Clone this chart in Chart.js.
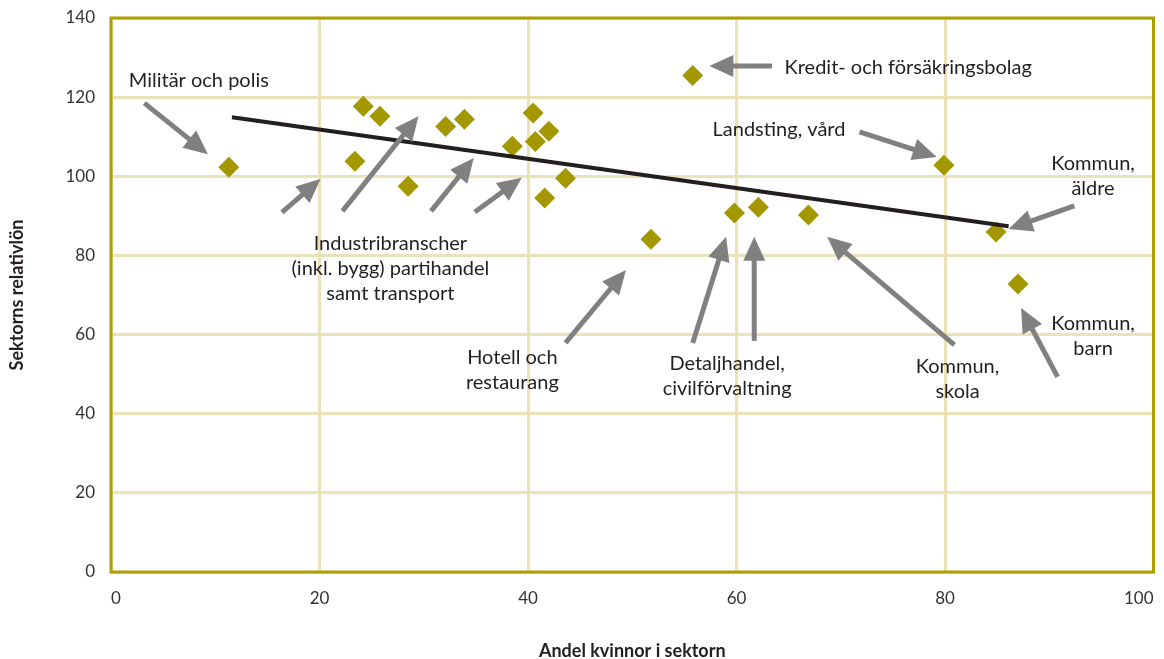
<!DOCTYPE html>
<html>
<head>
<meta charset="utf-8">
<script src="https://cdn.jsdelivr.net/npm/chart.js@4/dist/chart.umd.min.js"></script>
<style>
  html, body { margin: 0; padding: 0; background: #fff; }
  #wrap { width: 1164px; height: 659px; }
</style>
</head>
<body>
<div id="wrap"><canvas id="c"></canvas></div>
<script>
// andel kvinnor i sektorn (%) och sektorns relativlön
const andelKvinnor = [11.3, 24.2, 25.8, 23.4, 28.5, 32.1, 33.9, 38.5, 40.5, 40.7, 42.0, 43.6, 41.6, 51.8, 55.8, 59.8, 62.1, 66.9, 79.9, 84.9, 87.0];
const relativlon   = [102.3, 117.7, 115.2, 103.8, 97.5, 112.6, 114.4, 107.6, 116.0, 108.8, 111.4, 99.5, 94.5, 84.1, 125.5, 90.7, 92.2, 90.2, 102.8, 85.9, 72.8];

// trendlinje
const trendX = [11.6, 86.1];
const trendY = [114.9, 87.4];

const xTicks = [0, 20, 40, 60, 80, 100];
const yTicks = [0, 20, 40, 60, 80, 100, 120, 140];

// etiketter: text, x, y (datavärden), justering
const labelTexts = [
  ['Militär och polis'],
  ['Industribranscher', '(inkl. bygg) partihandel', 'samt transport'],
  ['Hotell och', 'restaurang'],
  ['Kredit- och försäkringsbolag'],
  ['Landsting, vård'],
  ['Detaljhandel,', 'civilförvaltning'],
  ['Kommun,', 'skola'],
  ['Kommun,', 'äldre'],
  ['Kommun,', 'barn']
];
const labelX = [1.7, 26.8, 38.5, 64.6, 57.7, 59.1, 81.2, 94.2, 94.2];
const labelY = [124.3, 83.0, 54.1, 127.6, 111.7, 52.6, 51.8, 103.3, 62.7];
const labelAlign = ['left', 'center', 'center', 'left', 'left', 'center', 'center', 'center', 'center'];

// pilar: start -> spets (datavärden)
const arrowFromX = [3.2, 16.4, 22.2, 30.7, 34.9, 43.6, 63.4, 55.8, 61.7, 80.9, 71.8, 92.4, 90.8];
const arrowFromY = [118.5, 90.9, 91.2, 91.2, 91.0, 57.9, 127.9, 57.9, 58.4, 57.4, 111.2, 92.5, 49.3];
const arrowToX   = [9.3, 20.1, 29.5, 34.8, 39.4, 49.4, 57.4, 59.0, 61.7, 68.7, 79.2, 86.1, 87.3];
const arrowToY   = [105.6, 99.3, 115.2, 104.6, 99.6, 76.3, 127.9, 84.7, 84.7, 84.7, 104.9, 86.7, 66.7];

const olive = '#a39800';
const gridCol = '#ebe3b8';
const textCol = '#231f20';

const points = andelKvinnor.map((x, i) => ({x: x, y: relativlon[i]}));
const trend = trendX.map((x, i) => ({x: x, y: trendY[i]}));

const frame = {
  id: 'frame',
  beforeDatasetsDraw(chart) {
    const {ctx, chartArea: a} = chart;
    ctx.save();
    ctx.strokeStyle = '#aba000';
    ctx.lineWidth = 3;
    ctx.strokeRect(a.left, a.top, a.right - a.left, a.bottom - a.top);
    ctx.restore();
  }
};

const notes = {
  id: 'notes',
  afterDatasetsDraw(chart) {
    const ctx = chart.ctx;
    const xs = chart.scales.x, ys = chart.scales.y;
    ctx.save();
    // pilar
    ctx.strokeStyle = '#808080';
    ctx.fillStyle = '#808080';
    ctx.lineWidth = 5;
    for (let i = 0; i < arrowFromX.length; i++) {
      const x0 = xs.getPixelForValue(arrowFromX[i]), y0 = ys.getPixelForValue(arrowFromY[i]);
      const x1 = xs.getPixelForValue(arrowToX[i]), y1 = ys.getPixelForValue(arrowToY[i]);
      const ang = Math.atan2(y1 - y0, x1 - x0);
      const len = 24, half = 11;
      const bx = x1 - Math.cos(ang) * len, by = y1 - Math.sin(ang) * len;
      ctx.beginPath();
      ctx.moveTo(x0, y0);
      ctx.lineTo(bx + Math.cos(ang) * 2, by + Math.sin(ang) * 2);
      ctx.stroke();
      ctx.beginPath();
      ctx.moveTo(x1, y1);
      ctx.lineTo(bx - Math.sin(ang) * half, by + Math.cos(ang) * half);
      ctx.lineTo(bx + Math.sin(ang) * half, by - Math.cos(ang) * half);
      ctx.closePath();
      ctx.fill();
    }
    // texter
    ctx.fillStyle = textCol;
    ctx.font = '20px Lato';
    ctx.textBaseline = 'middle';
    for (let i = 0; i < labelTexts.length; i++) {
      const px = xs.getPixelForValue(labelX[i]), py = ys.getPixelForValue(labelY[i]);
      ctx.textAlign = labelAlign[i];
      labelTexts[i].forEach((t, j) => ctx.fillText(t, px, py + j * 25));
    }
    ctx.restore();
  }
};

new Chart(document.getElementById('c'), {
  type: 'scatter',
  data: {
    datasets: [
      {
        type: 'line',
        data: trend,
        borderColor: textCol,
        borderWidth: 4,
        pointRadius: 0,
        fill: false,
        order: 0
      },
      {
        data: points,
        pointStyle: 'rectRot',
        pointRadius: 10.5,
        pointBackgroundColor: olive,
        pointBorderWidth: 0,
        order: 1
      }
    ]
  },
  options: {
    responsive: true,
    maintainAspectRatio: false,
    animation: false,
    layout: { padding: { top: 18, right: 4, left: 0, bottom: 0 } },
    plugins: { legend: { display: false }, tooltip: { enabled: false } },
    scales: {
      x: {
        type: 'linear',
        min: 0, max: 100,
        afterBuildTicks: s => { s.ticks = xTicks.map(v => ({value: v})); },
        afterFit: s => { s.height = 87; s.paddingLeft = 0; s.paddingRight = 0; },
        grid: { color: gridCol, lineWidth: 3, drawTicks: false },
        border: { display: false },
        ticks: { padding: 16, align: 'inner', color: '#333', font: { family: 'Lato', size: 17 } },
        title: {
          display: true, text: 'Andel kvinnor i sektorn', color: textCol,
          font: { family: 'Lato', size: 18, weight: 'bold' }, padding: { top: 0, bottom: -3 }
        }
      },
      y: {
        type: 'linear',
        min: 0, max: 140,
        afterBuildTicks: s => { s.ticks = yTicks.map(v => ({value: v})); },
        afterFit: s => { s.width = 111; s.paddingTop = 0; s.paddingBottom = 0; },
        grid: { color: gridCol, lineWidth: 3, drawTicks: false },
        border: { display: false },
        ticks: { padding: 16, color: '#333', font: { family: 'Lato', size: 17 } },
        title: {
          display: true, text: 'Sektorns relativlön', color: textCol,
          font: { family: 'Lato', size: 18, weight: 'bold' }, padding: { top: 6, bottom: 0 }
        }
      }
    }
  },
  plugins: [frame, notes]
});
</script>
</body>
</html>
